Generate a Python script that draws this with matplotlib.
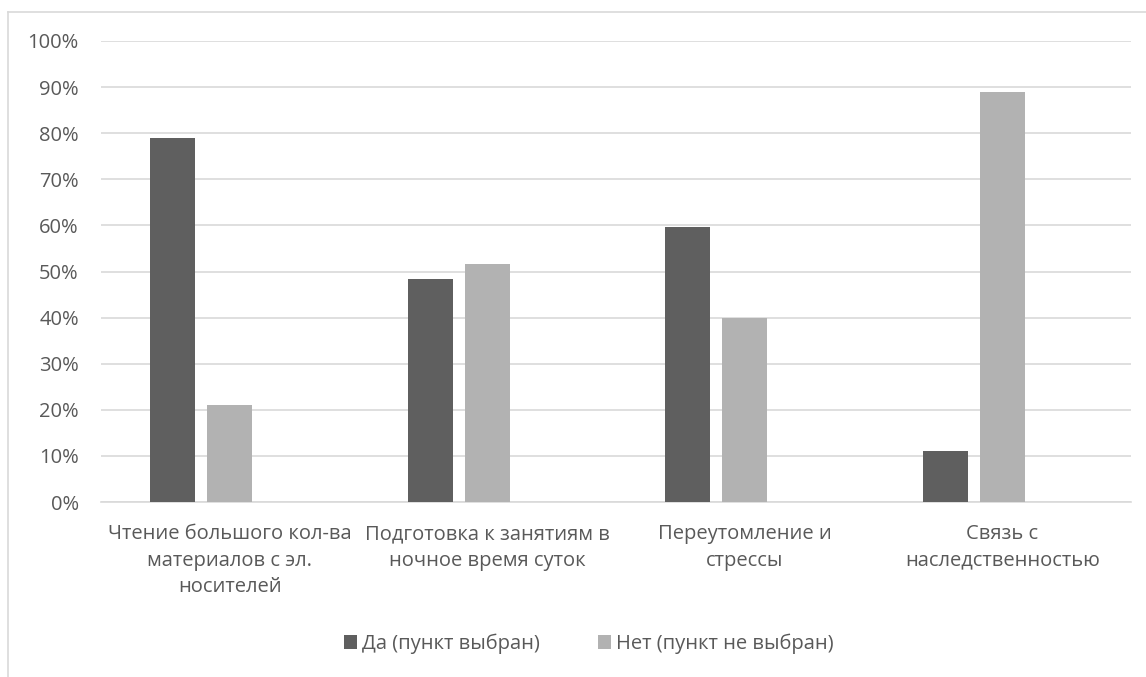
import matplotlib.pyplot as plt
import numpy as np
from matplotlib.lines import Line2D
from matplotlib.ticker import PercentFormatter

plt.rcParams['font.family'] = ['Open Sans', 'DejaVu Sans']

categories = ['Чтение большого кол-ва\nматериалов с эл.\nносителей',
              'Подготовка к занятиям в\nночное время суток',
              'Переутомление и\nстрессы',
              'Связь с\nнаследственностью']
yes_values = [79.0, 48.3, 59.7, 11.0]
no_values = [21.0, 51.7, 40.0, 89.0]
series_names = ['Да (пункт выбран)', 'Нет (пункт не выбран)']

text_color = '#595959'
grid_color = '#d9d9d9'
fs = 14.5

fig = plt.figure(figsize=(11.46, 6.77), dpi=100)
ax = fig.add_axes([101 / 1146, 1 - 502 / 677, 1030 / 1146, 461 / 677])

x = np.arange(len(categories))
step = 57 / 257.5
width = 45 / 257.5
ax.bar(x - step, yes_values, width=width, color='#5f5f5f', label=series_names[0], zorder=3)
ax.bar(x, no_values, width=width, color='#b2b2b2', label=series_names[1], zorder=3)

ax.set_xlim(-0.5, len(categories) - 0.5)
ax.set_ylim(0, 100)
ax.set_yticks(np.arange(0, 101, 10))
ax.yaxis.set_major_formatter(PercentFormatter(decimals=0))
ax.set_xticks(x)
ax.set_xticklabels(categories, fontsize=fs, color=text_color, linespacing=1.42)
ax.tick_params(axis='y', labelsize=fs, labelcolor=text_color, length=0, pad=16)
ax.tick_params(axis='x', length=0, pad=16)
ax.grid(axis='y', color=grid_color, linewidth=1.2, zorder=0)
for side in ['top', 'right', 'left']:
    ax.spines[side].set_visible(False)
ax.spines['bottom'].set_color(grid_color)
ax.spines['bottom'].set_linewidth(1.2)

leg = fig.legend(loc='center', bbox_to_anchor=(589 / 1146, 1 - 644 / 677), ncol=2,
                 frameon=False, fontsize=fs, handlelength=0.65, handleheight=0.65,
                 handletextpad=0.25, columnspacing=2.9)
for t in leg.get_texts():
    t.set_color(text_color)

# chart outer border (only top and left visible in the crop)
fig.add_artist(Line2D([8 / 1146, 1], [1 - 12 / 677, 1 - 12 / 677], color=grid_color, linewidth=1.2))
fig.add_artist(Line2D([8 / 1146, 8 / 1146], [0, 1 - 12 / 677], color=grid_color, linewidth=1.2))

plt.savefig('out.png', dpi=100, facecolor='white')
